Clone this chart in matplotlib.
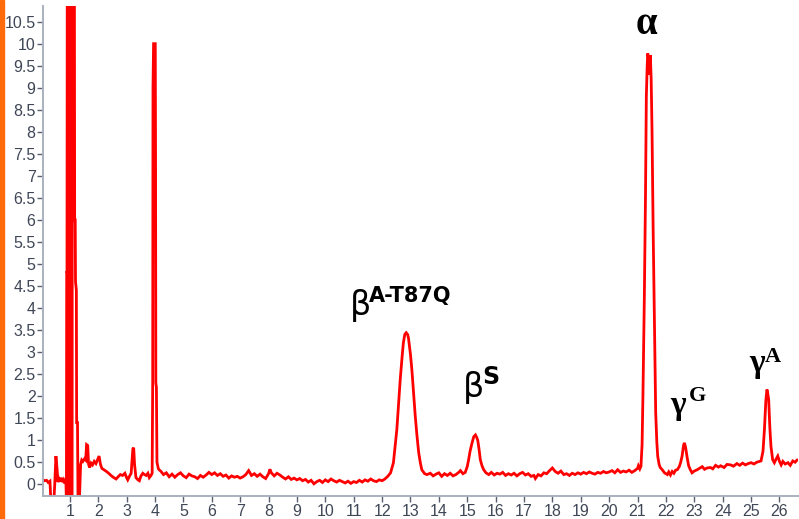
"""HPLC chromatogram of haemoglobin chains (beta A-T87Q, beta S, alpha, gamma G, gamma A)."""

import matplotlib
matplotlib.use("Agg")
import matplotlib.pyplot as plt
from matplotlib.patches import Rectangle

# retention time (min) / absorbance
rt_min = [
    # injection front
    0.06, 0.12, 0.18, 0.24, 0.30, 0.33, 0.44, 0.47, 0.51, 0.55, 0.58, 0.62,
    0.66, 0.70, 0.74, 0.78, 0.82, 0.86, 0.88, 0.89, 0.90, 0.91, 0.95, 0.96,
    1.00, 1.01, 1.05, 1.06, 1.08, 1.09, 1.16, 1.17, 1.19, 1.20, 1.23, 1.24,
    1.27, 1.29, 1.33, 1.38, 1.42, 1.46,
    1.52, 1.56, 1.59, 1.63, 1.66, 1.70, 1.75, 1.80, 1.86, 1.92, 1.97, 2.03,
    2.08, 2.13, 2.20, 2.27, 2.35, 2.45, 2.55, 2.63, 2.70, 2.78, 2.86, 2.94,
    3.00, 3.04, 3.10, 3.16, 3.22, 3.25, 3.28, 3.33, 3.40, 3.45, 3.50, 3.57,
    3.63, 3.69, 3.75, 3.80, 3.86, 3.90, 3.92, 3.93, 3.95, 4.01, 4.02, 4.03,
    4.05, 4.07, 4.12, 4.16,
    # baseline 4.2 - 12.2
    4.2, 4.3, 4.4, 4.5, 4.6, 4.7, 4.8, 4.9, 5.0, 5.1, 5.2, 5.3, 5.4, 5.5,
    5.6, 5.7, 5.8, 5.9, 6.0, 6.1, 6.2, 6.3, 6.4, 6.5, 6.6, 6.7, 6.8, 6.9,
    7.0, 7.1, 7.2, 7.3, 7.4, 7.5, 7.6, 7.7, 7.8, 7.9, 8.0, 8.05, 8.1, 8.2,
    8.3, 8.4, 8.5, 8.6, 8.7, 8.8, 8.9, 9.0, 9.1, 9.2, 9.3, 9.4, 9.5, 9.6,
    9.7, 9.8, 9.9, 10.0, 10.1, 10.2, 10.3, 10.4, 10.5, 10.6, 10.7, 10.8,
    10.9, 11.0, 11.1, 11.2, 11.3, 11.4, 11.5, 11.6, 11.7, 11.8, 11.9, 12.0,
    12.1, 12.2,
    # beta A-T87Q and beta S
    12.3, 12.4, 12.45, 12.52, 12.58, 12.64, 12.7, 12.75, 12.8, 12.85, 12.9,
    12.93, 13.0, 13.05, 13.1, 13.17, 13.23, 13.29, 13.35, 13.4, 13.5, 13.58,
    13.7, 13.8, 13.9, 14.0, 14.1, 14.2, 14.3, 14.4, 14.5, 14.6, 14.7, 14.76,
    14.85, 14.93, 15.0, 15.05, 15.1, 15.17, 15.23, 15.29, 15.33, 15.37,
    15.42, 15.46, 15.52, 15.58, 15.66, 15.76, 15.85, 15.95, 16.05, 16.15,
    16.25, 16.35, 16.45, 16.55, 16.65, 16.75, 16.85, 16.95, 17.05, 17.15,
    17.25, 17.35, 17.4, 17.5, 17.6, 17.7, 17.8, 17.9, 18.0, 18.1, 18.2,
    18.3, 18.4, 18.5, 18.6, 18.7, 18.8, 18.9, 19.0, 19.1, 19.2, 19.3, 19.4,
    19.5, 19.6, 19.7, 19.8, 19.9, 20.0, 20.1, 20.2, 20.3, 20.4, 20.5, 20.6,
    20.7, 20.8, 20.9, 21.0, 21.03, 21.08, 21.12,
    # alpha
    21.16, 21.19, 21.24, 21.28, 21.31, 21.34, 21.36, 21.38, 21.41, 21.43,
    21.45, 21.48, 21.51, 21.55, 21.6, 21.64, 21.68, 21.71, 21.76, 21.8,
    21.87, 21.95, 22.05,
    # gamma G and gamma A
    22.1, 22.16, 22.22, 22.28, 22.34, 22.4, 22.47, 22.52, 22.57, 22.62,
    22.65, 22.69, 22.75, 22.8, 22.86, 22.92, 23.0, 23.1, 23.2, 23.28, 23.36,
    23.45, 23.57, 23.65, 23.75, 23.85, 23.93, 24.05, 24.15, 24.28, 24.38,
    24.5, 24.6, 24.7, 24.8, 24.9, 25.0, 25.1, 25.2, 25.3, 25.35, 25.42,
    25.47, 25.52, 25.56, 25.59, 25.62, 25.66, 25.7, 25.76, 25.82, 25.88,
    25.94, 26.0, 26.06, 26.12, 26.2, 26.3, 26.38, 26.47, 26.55, 26.62, 26.7,
]

absorbance = [
    0.10, 0.08, 0.09, 0.04, 0.07, -0.35, -0.35, 0.02, 0.64, 0.35, 0.05, 0.12,
    0.06, 0.15, 0.05, 0.10, 0.02, 0.12, -0.4, 4.8, 4.8, 12.0, 12.0, -0.5,
    -0.5, 12.0, 12.0, -0.5, -0.5, 12.0, 12.0, 6.0, 6.0, 4.6, 4.4, 1.4,
    1.4, -0.5, -0.5, 0.45, 0.55, 0.52,
    0.58, 0.55, 0.90, 0.88, 0.45, 0.38, 0.48, 0.44, 0.52, 0.47, 0.55, 0.64,
    0.45, 0.36, 0.33, 0.30, 0.26, 0.20, 0.15, 0.12, 0.17, 0.22, 0.20, 0.25,
    0.15, 0.10, 0.18, 0.25, 0.80, 0.83, 0.45, 0.15, 0.10, 0.08, 0.18, 0.25,
    0.22, 0.20, 0.25, 0.15, 0.20, 0.25, 2.35, 9.0, 10.0, 10.0, 7.5, 2.3,
    2.2, 0.50, 0.35, 0.32,
    0.30, 0.22, 0.26, 0.17, 0.23, 0.16, 0.22, 0.26, 0.19, 0.15, 0.23, 0.19,
    0.17, 0.13, 0.20, 0.16, 0.21, 0.27, 0.22, 0.26, 0.20, 0.24, 0.18, 0.21,
    0.14, 0.19, 0.16, 0.18, 0.14, 0.17, 0.22, 0.31, 0.20, 0.24, 0.18, 0.23,
    0.17, 0.13, 0.24, 0.34, 0.26, 0.19, 0.25, 0.21, 0.16, 0.12, 0.17, 0.11,
    0.14, 0.10, 0.13, 0.08, 0.11, 0.05, 0.09, 0.01, 0.06, 0.09, 0.04, 0.10,
    0.06, 0.12, 0.08, 0.05, 0.09, 0.06, 0.03, 0.07, 0.02, 0.06, 0.04, 0.09,
    0.05, 0.10, 0.07, 0.12, 0.08, 0.06, 0.10, 0.08, 0.12, 0.18,
    0.26, 0.49, 0.80, 1.24, 1.80, 2.38, 2.85, 3.21, 3.40, 3.44, 3.40,
    3.32, 2.95, 2.60, 2.15, 1.54, 1.10, 0.72, 0.48, 0.33, 0.24, 0.22,
    0.25, 0.19, 0.23, 0.26, 0.18, 0.24, 0.20, 0.25, 0.19, 0.22, 0.27, 0.31,
    0.24, 0.27, 0.40, 0.56, 0.75, 0.94, 1.08, 1.12, 1.07, 1.00,
    0.78, 0.56, 0.42, 0.33, 0.26, 0.22, 0.27, 0.21, 0.25, 0.23,
    0.27, 0.20, 0.24, 0.21, 0.25, 0.19, 0.24, 0.27, 0.21, 0.24,
    0.18, 0.20, 0.13, 0.22, 0.19, 0.26, 0.24, 0.31, 0.37, 0.29, 0.25,
    0.30, 0.22, 0.24, 0.20, 0.25, 0.22, 0.26, 0.23, 0.27, 0.24, 0.28, 0.25,
    0.23, 0.27, 0.25, 0.29, 0.26, 0.28, 0.31, 0.26, 0.33, 0.27, 0.30, 0.28,
    0.32, 0.27, 0.31, 0.36, 0.42, 0.35, 0.41,
    0.90, 2.0, 4.26, 6.53, 8.8, 9.5, 9.78, 9.7, 9.3, 9.55,
    9.74, 9.2, 8.04, 5.77, 3.5, 1.62, 0.95, 0.64, 0.45, 0.38,
    0.33, 0.26, 0.22,
    0.28, 0.21, 0.29, 0.25, 0.32, 0.33, 0.40, 0.50, 0.64, 0.88,
    0.94, 0.85, 0.60, 0.42, 0.33, 0.26, 0.30, 0.33, 0.37, 0.40, 0.34,
    0.37, 0.38, 0.35, 0.43, 0.39, 0.42, 0.38, 0.45, 0.44, 0.41,
    0.47, 0.43, 0.48, 0.44, 0.47, 0.49, 0.46, 0.50, 0.52, 0.53, 0.75,
    1.24, 1.90, 2.15, 2.05, 1.92, 1.30, 0.86, 0.56, 0.49, 0.57,
    0.64, 0.52, 0.44, 0.52, 0.46, 0.49, 0.43, 0.53, 0.50, 0.55, 0.56,
]

x_ticks = list(range(1, 27))
y_ticks = [i * 0.5 for i in range(22)]

# peak labels: base glyph, superscript
peak_names = ["\u03b2", "\u03b2", "\u03b1", "\u03b3", "\u03b3"]
peak_sups = ["A-T87Q", "S", "", "G", "A"]

plt.rcParams["font.family"] = ["Liberation Sans Narrow", "Liberation Sans", "DejaVu Sans"]

fig = plt.figure(figsize=(7.99, 5.19), dpi=100)
ax = fig.add_axes([0.054, 0.044, 0.945, 0.944])

ax.plot(rt_min, absorbance, color="#ff0000", lw=2.0, solid_joinstyle="miter")

ax.set_xlim(0.06, 26.66)
ax.set_ylim(-0.27, 10.85)
ax.set_xticks(x_ticks)
ax.set_yticks(y_ticks)
ax.set_yticklabels([f"{v:g}" for v in y_ticks])

for side in ("top", "right"):
    ax.spines[side].set_visible(False)
for side in ("left", "bottom"):
    ax.spines[side].set_color("#a9b0bf")
    ax.spines[side].set_linewidth(1.4)
ax.tick_params(axis="both", direction="out", length=4, width=1,
               color="#5a6070", labelcolor="#3f4656", labelsize=11.5, pad=1.5)

# sans-serif beta labels
sans = "DejaVu Sans"
ax.text(10.85, 4.05, peak_names[0], fontsize=24, family=sans, va="center", ha="left")
ax.text(11.54, 4.28, peak_sups[0], fontsize=15, family=sans, weight="bold",
        va="center", ha="left")
ax.text(14.86, 2.2, peak_names[1], fontsize=24, family=sans, va="center", ha="left")
ax.text(15.54, 2.44, peak_sups[1], fontsize=17, family=sans, weight="bold",
        va="center", ha="left")

# serif alpha / gamma labels
serif = "Liberation Serif"
ax.text(21.31, 10.23, peak_names[2], fontsize=28, family=serif, weight="bold",
        va="baseline", ha="center")
ax.text(22.16, 1.6, peak_names[3], fontsize=24, family=serif, weight="bold",
        va="baseline", ha="left")
ax.text(22.8, 1.88, peak_sups[3], fontsize=16, family=serif, weight="bold",
        va="baseline", ha="left")
ax.text(24.94, 2.55, peak_names[4], fontsize=24, family=serif, weight="bold",
        va="baseline", ha="left")
ax.text(25.5, 2.78, peak_sups[4], fontsize=16, family=serif, weight="bold",
        va="baseline", ha="left")

# orange strip on the left edge
fig.patches.append(Rectangle((0, 0), 4 / 799, 1, transform=fig.transFigure,
                             color="#ff6a0a", zorder=10))

fig.savefig("out.png", dpi=100)
